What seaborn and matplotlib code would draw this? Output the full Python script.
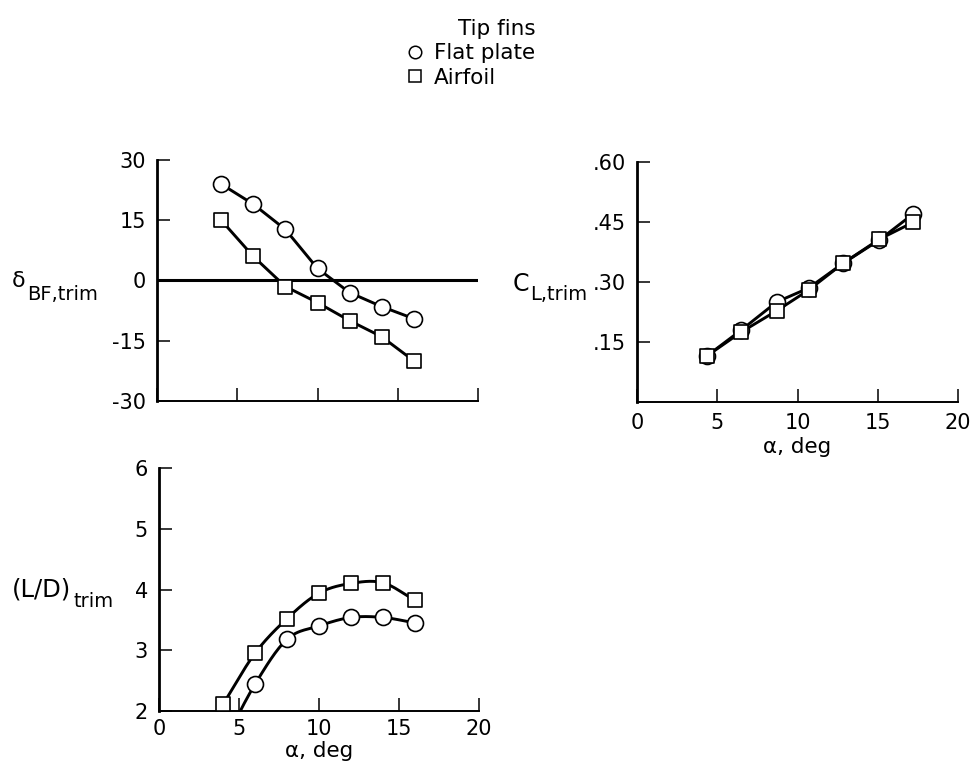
import numpy as np
import matplotlib
matplotlib.use("Agg")
import matplotlib.pyplot as plt
import seaborn as sns
from matplotlib.lines import Line2D

# Angle of attack for the deflection and L/D runs (deg)
alpha = [4, 6, 8, 10, 12, 14, 16]
# Trimmed angle of attack for the lift run (deg)
alpha_trim = [4.35, 6.5, 8.7, 10.7, 12.85, 15.1, 17.2]

# Body-flap deflection to trim (deg)
delta_flat = [24, 19, 12.7, 3, -3, -6.5, -9.5]
delta_airfoil = [15, 6, -1.5, -5.5, -10, -14, -20]

# Trimmed lift coefficient
cl_flat = [0.115, 0.18, 0.25, 0.285, 0.347, 0.405, 0.47]
cl_airfoil = [0.115, 0.175, 0.228, 0.28, 0.347, 0.407, 0.449]

# Trimmed lift-to-drag ratio
ld_flat = [1.45, 2.44, 3.18, 3.40, 3.54, 3.54, 3.45]
ld_airfoil = [2.11, 2.95, 3.52, 3.94, 4.10, 4.11, 3.82]

x_ticks = [0, 5, 10, 15, 20]
x_ticklabels = ["0", "5", "10", "15", "20"]
delta_ticks = [-30, -15, 0, 15, 30]
delta_ticklabels = ["-30", "-15", "0", "15", "30"]
cl_ticks = [0.15, 0.30, 0.45, 0.60]
cl_ticklabels = [".15", ".30", ".45", ".60"]
ld_ticks = [2, 3, 4, 5, 6]
ld_ticklabels = ["2", "3", "4", "5", "6"]

series_names = ["Flat plate", "Airfoil"]
legend_title = "Tip fins"

sns.set_theme(style="ticks")
plt.rcParams["font.family"] = ["DejaVu Sans"]
plt.rcParams["axes.unicode_minus"] = False
plt.rcParams["text.color"] = "black"
plt.rcParams["axes.labelcolor"] = "black"
plt.rcParams["xtick.color"] = "black"
plt.rcParams["ytick.color"] = "black"

W, H = 976, 783
fig = plt.figure(figsize=(W / 100, H / 100), dpi=100)
fig.patch.set_facecolor("white")


def axes_px(x0, y0, x1, y1):
    return fig.add_axes([x0 / W, 1 - y1 / H, (x1 - x0) / W, (y1 - y0) / H])


def style(ax):
    for s in ("top", "right"):
        ax.spines[s].set_visible(False)
    ax.spines["left"].set_linewidth(2.0)
    ax.spines["bottom"].set_linewidth(1.4)
    for s in ("left", "bottom"):
        ax.spines[s].set_color("black")
    ax.tick_params(direction="in", length=9.5, width=1.1, colors="black",
                   labelsize=15, pad=8)
    ax.set_facecolor("white")
    ax.grid(False)


def catmull_rom(x, y, n=24):
    p = np.column_stack([x, y]).astype(float)
    p = np.vstack([2 * p[0] - p[1], p, 2 * p[-1] - p[-2]])
    t = np.linspace(0, 1, n, endpoint=False)[:, None]
    out = []
    for i in range(1, len(p) - 2):
        p0, p1, p2, p3 = p[i - 1], p[i], p[i + 1], p[i + 2]
        seg = 0.5 * ((2 * p1) + (-p0 + p2) * t
                     + (2 * p0 - 5 * p1 + 4 * p2 - p3) * t ** 2
                     + (-p0 + 3 * p1 - 3 * p2 + p3) * t ** 3)
        out.append(seg)
    out.append(p[-2][None, :])
    c = np.vstack(out)
    return c[:, 0], c[:, 1]


LW = 2.1
MARK = {"o": dict(marker="o", s=11.5 ** 2), "s": dict(marker="s", s=9.8 ** 2)}


def markers(ax, x, y, m):
    sns.scatterplot(x=x, y=y, ax=ax, color="white", edgecolor="black",
                    linewidth=1.2, zorder=5, legend=False, **MARK[m])


def straight(ax, x, y):
    sns.lineplot(x=x, y=y, ax=ax, color="black", linewidth=LW, sort=False,
                 estimator=None, zorder=3)


def smooth(ax, x, y):
    xs, ys = catmull_rom(x, y)
    sns.lineplot(x=xs, y=ys, ax=ax, color="black", linewidth=LW, sort=False,
                 estimator=None, zorder=3)


# --- body-flap deflection ---
ax_d = axes_px(157, 160, 478, 401)
style(ax_d)
ax_d.axhline(0, color="black", linewidth=2.2, zorder=2)
straight(ax_d, alpha, delta_flat)
straight(ax_d, alpha, delta_airfoil)
markers(ax_d, alpha, delta_flat, "o")
markers(ax_d, alpha, delta_airfoil, "s")
ax_d.set_xlim(0, 20)
ax_d.set_ylim(-30, 30)
ax_d.set_xticks(x_ticks)
ax_d.set_xticklabels([])
ax_d.set_yticks(delta_ticks)
ax_d.set_yticklabels(delta_ticklabels)
ax_d.set_xlabel("")
ax_d.set_ylabel("")

# --- trimmed lift coefficient ---
ax_c = axes_px(637, 162, 958, 402)
style(ax_c)
straight(ax_c, alpha_trim, cl_flat)
straight(ax_c, alpha_trim, cl_airfoil)
markers(ax_c, alpha_trim, cl_flat, "o")
markers(ax_c, alpha_trim, cl_airfoil, "s")
ax_c.set_xlim(0, 20)
ax_c.set_ylim(0, 0.60)
ax_c.set_xticks(x_ticks)
ax_c.set_xticklabels(x_ticklabels)
ax_c.set_yticks(cl_ticks)
ax_c.set_yticklabels(cl_ticklabels)
ax_c.set_xlabel("α, deg", fontsize=15.5, labelpad=3)
ax_c.set_ylabel("")

# --- trimmed lift-to-drag ratio ---
ax_l = axes_px(159, 468, 479, 711)
style(ax_l)
ax_l.tick_params(axis="x", pad=6)
smooth(ax_l, alpha, ld_flat)
smooth(ax_l, alpha, ld_airfoil)
markers(ax_l, alpha, ld_flat, "o")
markers(ax_l, alpha, ld_airfoil, "s")
ax_l.set_xlim(0, 20)
ax_l.set_ylim(2, 6)
ax_l.set_xticks(x_ticks)
ax_l.set_xticklabels(x_ticklabels)
ax_l.set_yticks(ld_ticks)
ax_l.set_yticklabels(ld_ticklabels)
ax_l.set_xlabel("α, deg", fontsize=15.5, labelpad=1)
ax_l.set_ylabel("")


# y-axis labels with lowered subscripts
def label_px(x, y_base, text, size, ha="left"):
    fig.text(x / W, 1 - y_base / H, text, fontsize=size, ha=ha, va="baseline",
             color="black")


label_px(12, 287, "δ", 16)
label_px(27, 300, "BF,trim", 14)
label_px(12, 597, "(L/D)", 17.5)
label_px(74, 607, "trim", 14)
label_px(513, 291, "C", 17)
label_px(530, 300, "L,trim", 14)

# legend
handles = [
    Line2D([], [], marker="o", ls="none", mfc="white", mec="black", ms=9,
           mew=1.1, label=series_names[0]),
    Line2D([], [], marker="s", ls="none", mfc="white", mec="black", ms=8,
           mew=1.1, label=series_names[1]),
]
leg = fig.legend(handles=handles, title=legend_title, loc="upper left",
                 bbox_to_anchor=(389 / W, 1 - 4 / H), frameon=False,
                 fontsize=15.5, title_fontsize=15.5, handlelength=1.0,
                 handletextpad=0.4, labelspacing=0.2, borderpad=0.2)
leg._legend_box.align = "right"
for t in leg.get_texts():
    t.set_color("black")
leg.get_title().set_color("black")

fig.savefig("out.png", dpi=100, facecolor="white")
